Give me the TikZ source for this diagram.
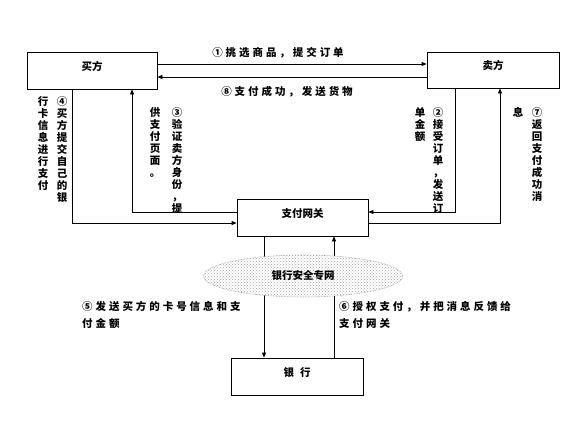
\documentclass[tikz,border=0pt]{standalone}
\usepackage{fontspec}
\newfontfamily\cjk{Noto Sans CJK SC}
\newfontfamily\cjkw{Noto Sans CJK SC}[LetterSpace=28]
\usetikzlibrary{arrows.meta,positioning,calc,shapes.geometric,patterns}
\tikzset{
  blk/.style={draw,rectangle,minimum width=131pt,minimum height=37pt,line width=0.8pt,font=\cjk\bfseries\fontsize{10.5}{12}\selectfont,text height=9pt,text depth=9pt},
  vcol/.style={anchor=north,inner sep=0pt,align=center,font=\cjk\bfseries\fontsize{10.5}{12}\selectfont},
  hlbl/.style={inner sep=0pt,align=left,font=\cjkw\bfseries\fontsize{10.5}{17}\selectfont},
  net/.style={ellipse,draw=gray!80,densely dotted,line width=0.6pt,minimum width=199pt,minimum height=42pt,preaction={fill=white},pattern=crosshatch dots,pattern color=gray!70,font=\cjk\bfseries\fontsize{10.5}{12}\selectfont},
  arr/.style={-{Triangle[length=5pt,width=4pt]},line width=0.8pt},
  ln/.style={line width=0.8pt}
}
\begin{document}
\begin{tikzpicture}[x=1pt,y=-1pt]
  \useasboundingbox (0,0) rectangle (588,428);
  % Boxes
  \node[blk,minimum width=130pt] (buyer) at (92,70.5) {买方};
  \node[blk,minimum width=132pt,minimum height=36pt] (seller) at (493,70) {卖方};
  \node[blk] (gw) at (302.5,217.5) {支付网关};
  \node[blk,minimum width=132pt] (bank) at (297,376.5) {银\hspace{6pt}行};

  % Buyer <-> seller
  \draw[arr] ([yshift=6.5pt]buyer.east) -- ([yshift=6.5pt]buyer.east -| seller.west);
  \draw[arr] ([yshift=-6.5pt]buyer.east -| seller.west) -- ([yshift=-6.5pt]buyer.east);
  \node[hlbl] (l1) at (278,52.5) {①挑选商品，提交订单};
  \node[hlbl] (l8) at (287,91.5) {⑧支付成功，发送货物};

  % Turning points
  \coordinate (t4) at (72,223);
  \coordinate (t3) at (132,212);
  \coordinate (t2) at (455,212);
  \coordinate (t7) at (500,223);
  \coordinate (t5) at (264,300);
  \coordinate (t6) at (334,300);

  % Buyer <-> gateway
  \draw[arr] (buyer.south -| t4) |- (gw.west |- t4);
  \draw[arr] (gw.west |- t3) -| (buyer.south -| t3);
  % Seller <-> gateway
  \draw[arr] (seller.south -| t2) |- (gw.east |- t2);
  \draw[arr] (gw.east |- t7) -| (seller.south -| t7);
  % Gateway <-> bank
  \draw[arr] (gw.south -| t5) -- (bank.north -| t5);
  \draw[arr] (bank.north -| t6) -- (gw.south -| t6);
  \node[net] (net) at (303,276) {银行安全专网};

  % Vertical labels
  \node[vcol] (l4a) at (62,96) {④\\买\\方\\提\\交\\自\\己\\的\\银};
  \node[vcol] (l4b) at (43,96) {行\\卡\\信\\息\\进\\行\\支\\付};
  \node[vcol] (l3a) at (177,107) {③\\验\\证\\卖\\方\\身\\份\\，\\提};
  \node[vcol] (l3b) at (155,107) {供\\支\\付\\页\\面\\。};
  \node[vcol] (l2a) at (438,107) {②\\接\\受\\订\\单\\，\\发\\送\\订};
  \node[vcol] (l2b) at (420,107) {单\\金\\额};
  \node[vcol] (l7a) at (537,107) {⑦\\返\\回\\支\\付\\成\\功\\消};
  \node[vcol] (l7b) at (518,107) {息};

  % Bank labels
  \node[hlbl,anchor=north west] (l5) at (82,301) {⑤发送买方的卡号信息和支\\付金额};
  \node[hlbl,anchor=north west] (l6) at (339,301) {⑥授权支付，并把消息反馈给\\支付网关};
\end{tikzpicture}
\end{document}
